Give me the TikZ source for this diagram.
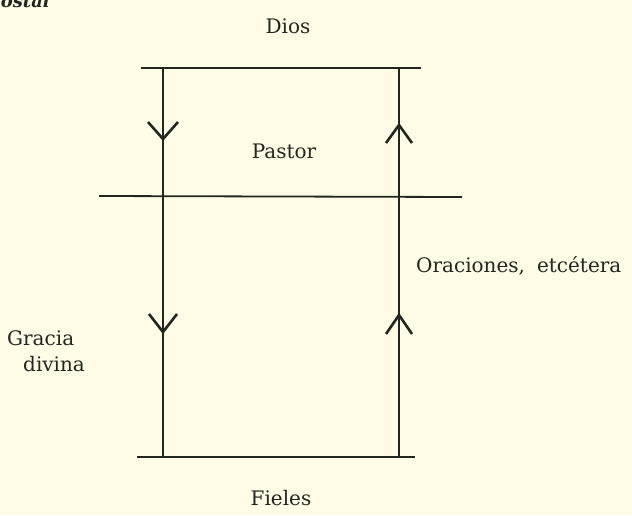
\documentclass[tikz,border=0pt]{standalone}
\usepackage{fontspec}
\setmainfont{DejaVu Serif}
\usetikzlibrary{calc}
\definecolor{paper}{RGB}{254,252,231}
\definecolor{ink}{RGB}{35,38,30}
\begin{document}
\begin{tikzpicture}[x=1pt,y=-1pt,
  lbl/.style={text=ink, font=\fontsize{20}{24}\selectfont, inner sep=0pt},
  rule/.style={draw=ink, line width=1.8pt},
  barb/.style={draw=ink, line width=2.6pt, line join=miter, line cap=butt}]
\fill[paper] (0,0) rectangle (632,515);
\useasboundingbox (0,0) rectangle (632,515);
% texts
\node[lbl, anchor=base east, font=\bfseries\itshape\fontsize{18}{22}\selectfont] (ostal) at (50,7) {ostal};
\node[lbl, anchor=base] (dios) at (288,33) {Dios};
\node[lbl, anchor=base] (pastor) at (284,158) {Pastor};
\node[lbl, anchor=base] (fieles) at (281,505) {Fieles};
\node[lbl, anchor=base west] (oraciones) at (416,272) {Oraciones,\hspace{12pt}etcétera};
\node[lbl, anchor=base west] (gracia) at (7,345) {Gracia};
\node[lbl, anchor=base west] (divina) at (23,371) {divina};
% horizontal rules
\coordinate (t1) at (141,68); \coordinate (t2) at (421,68);
\coordinate (m1) at (99,196); \coordinate (m2) at (462,197);
\coordinate (b1) at (137,457); \coordinate (b2) at (415,457);
\draw[rule] (t1) -- (t2);
\draw[rule] (m1) -- (m2);
\draw[rule] (b1) -- (b2);
% verticals
\coordinate (lt) at (163,68); \coordinate (lb) at (163,457);
\coordinate (rt) at (399,69); \coordinate (rb) at (399,457);
\draw[rule] (lt) -- (lb);
\draw[rule] (rb) -- (rt);
% arrowheads
\coordinate (la1) at (163,139); \coordinate (la2) at (163,332);
\coordinate (ra1) at (399,125); \coordinate (ra2) at (399,315);
\draw[barb] ($(la1)+(-15,-17)$) -- (la1) -- ($(la1)+(15,-17)$);
\draw[barb] ($(la2)+(-14,-18)$) -- (la2) -- ($(la2)+(14,-18)$);
\draw[barb] ($(ra1)+(-13,18)$) -- (ra1) -- ($(ra1)+(13,18)$);
\draw[barb] ($(ra2)+(-13,19)$) -- (ra2) -- ($(ra2)+(13,19)$);
\end{tikzpicture}
\end{document}
